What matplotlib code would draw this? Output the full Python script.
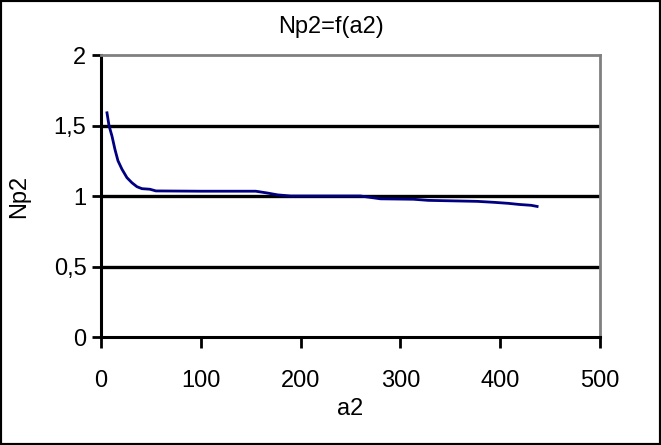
import matplotlib
matplotlib.use("Agg")
import matplotlib.pyplot as plt
from matplotlib.patches import Rectangle

a2 = [6, 8, 11, 14, 17, 21, 26, 31, 36, 41, 49, 55, 100, 155, 166, 177, 190, 200, 260, 270, 280, 313, 328, 377, 394, 408, 419, 431, 437]
np2 = [1.59, 1.50, 1.425, 1.33, 1.25, 1.19, 1.13, 1.094, 1.066, 1.052, 1.048, 1.036, 1.034, 1.034, 1.022, 1.008, 1.0, 1.0, 1.0, 0.99, 0.98, 0.977, 0.969, 0.962, 0.955, 0.948, 0.94, 0.934, 0.926]
xticks = [0, 100, 200, 300, 400, 500]
yticks = [0, 0.5, 1, 1.5, 2]
ylabels = ["0", "0,5", "1", "1,5", "2"]

plt.rcParams['font.family'] = ['Liberation Sans', 'DejaVu Sans']

fig = plt.figure(figsize=(6.61, 4.45), dpi=100)
fig.patches.append(Rectangle((0, 0), 1, 1, transform=fig.transFigure, fill=False,
                             edgecolor='black', linewidth=3))
ax = fig.add_axes([101/661, 108/445, 499/661, 282/445])
ax.set_xlim(0, 500)
ax.set_ylim(0, 2)
for y in yticks[1:-1]:
    ax.axhline(y, color='black', linewidth=2.4, zorder=1)
ax.plot(a2, np2, color='#000080', linewidth=2, zorder=3)
ax.set_xticks(xticks)
ax.set_yticks(yticks)
ax.set_yticklabels(ylabels)
ax.tick_params(axis='both', direction='out', width=2, labelsize=17, color='black')
ax.tick_params(axis='x', length=8, pad=16)
ax.tick_params(axis='y', length=6.5, pad=4)
for s in ['left', 'bottom']:
    ax.spines[s].set_color('black')
    ax.spines[s].set_linewidth(2.2)
for s in ['top', 'right']:
    ax.spines[s].set_color('#808080')
    ax.spines[s].set_linewidth(2)
ax.set_xlabel('a2', fontsize=17, labelpad=4)
ax.set_ylabel('Np2', fontsize=17, labelpad=17)
ax.set_title('Np2=f(a2)', fontsize=17, pad=16, x=(330.5 - 101) / 499)
fig.savefig('out.png', dpi=100)
